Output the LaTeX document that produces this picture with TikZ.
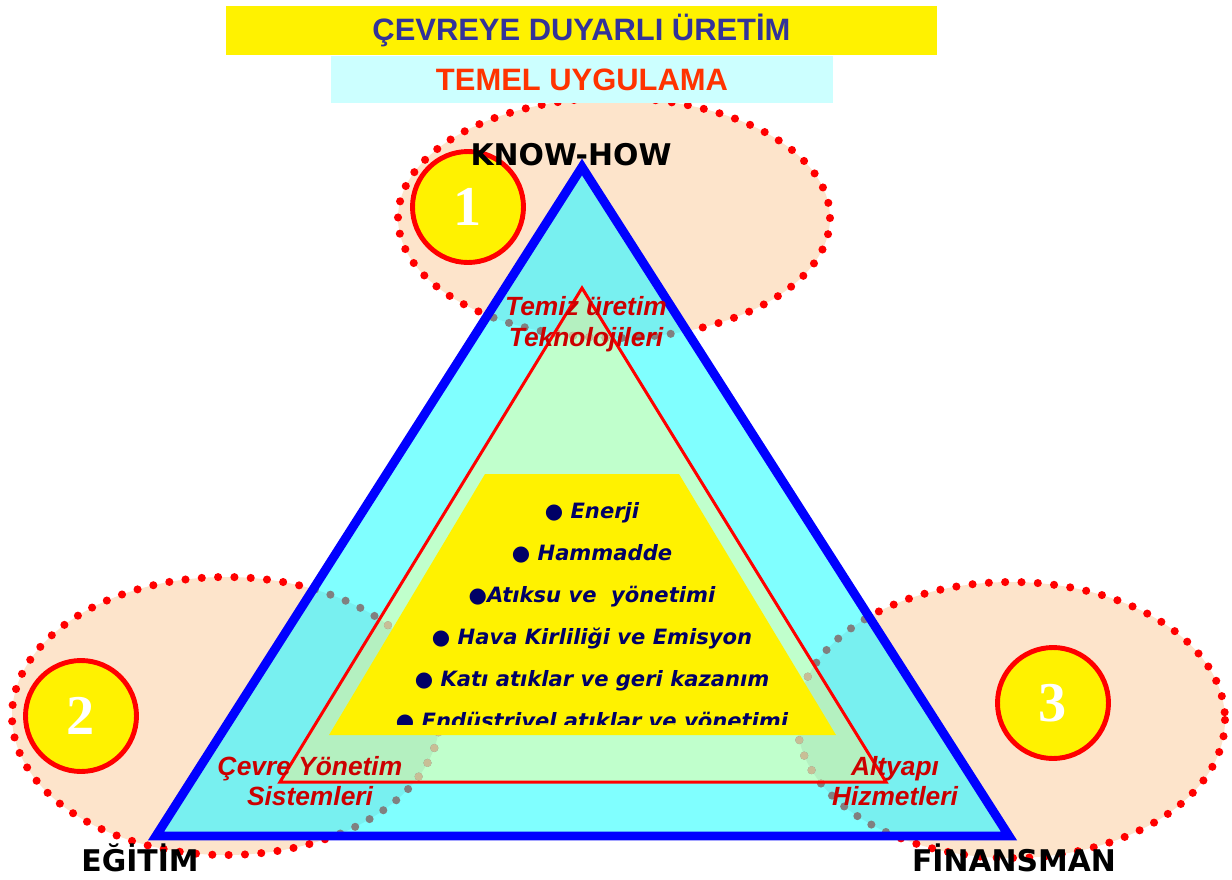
\documentclass[tikz,border=0pt]{standalone}
\usepackage{fontspec}
\setmainfont{Liberation Sans}
\newfontfamily\dvs{DejaVu Sans}
\newfontfamily\tnr{Liberation Serif}
\definecolor{titlecol}{HTML}{333399}
\definecolor{subcol}{HTML}{FF3300}
\definecolor{subbox}{HTML}{CCFFFF}
\definecolor{peach}{HTML}{FDE4CB}
\definecolor{cyanf}{HTML}{80FFFF}
\definecolor{greenf}{HTML}{C0FFCC}
\definecolor{navy}{HTML}{000066}
\definecolor{labred}{HTML}{CC0000}
\definecolor{tandot}{HTML}{C8BE96}
\tikzset{
  dotline/.style={line width=4.6pt, line cap=round, dash pattern=on 0pt off 9.3pt},
  numcirc/.style={circle, draw=red, line width=2.8pt, fill=yellow, minimum size=2.22cm, inner sep=0pt,
    text=white, font=\tnr\bfseries\fontsize{32}{32}\selectfont},
  listline/.style={anchor=base, text=navy, inner sep=0pt, font=\dvs\bfseries\itshape\fontsize{12}{14}\selectfont},
  redlab/.style={text=labred, align=center, inner sep=0pt, font=\bfseries\itshape\fontsize{15}{17.5}\selectfont},
  comic/.style={text=black, inner sep=0pt, font=\dvs\bfseries\fontsize{17}{20}\selectfont},
}
\begin{document}
\begin{tikzpicture}[x=0.02cm,y=-0.02cm]
\useasboundingbox (0,0) rectangle (1232,880);
% ellipses
\def\ellA{(614,218) ellipse [x radius=216, y radius=120]}
\def\ellB{(226,716) ellipse [x radius=214, y radius=139]}
\def\ellC{(1011,720) ellipse [x radius=214, y radius=138]}
\foreach \e in {\ellA,\ellB,\ellC}{
  \fill[peach] \e;
  \draw[red, dotline] \e;
}
% title boxes
\node[fill=yellow, minimum width=14.22cm, minimum height=0.98cm, inner sep=0pt,
  text=titlecol, font=\bfseries\fontsize{17.6}{20}\selectfont] (t1) at (581.5,30.5) {ÇEVREYE DUYARLI ÜRETİM};
\node[fill=subbox, minimum width=10.04cm, minimum height=0.94cm, inner sep=0pt,
  text=subcol, font=\bfseries\fontsize{17.6}{20}\selectfont] (t2) at (582,79.5) {TEMEL UYGULAMA};
% triangle coordinates
\coordinate (A) at (582,167);
\coordinate (B) at (156,836);
\coordinate (C) at (1009,836);
\coordinate (P) at (582,288);
\coordinate (Q) at (280,782);
\coordinate (R) at (886,782);
\fill[cyanf] (A) -- (B) -- (C) -- cycle;
\fill[greenf] (P) -- (Q) -- (R) -- cycle;
\begin{scope}
  \clip (A) -- (B) -- (C) -- cycle;
  \foreach \e in {\ellA,\ellB,\ellC}{
    \fill[black, fill opacity=0.06] \e;
    \draw[gray, dotline] \e;
  }
\end{scope}
\begin{scope}
  \clip (P) -- (Q) -- (R) -- cycle;
  \foreach \e in {\ellA,\ellB,\ellC}{
    \draw[tandot, dotline] \e;
  }
\end{scope}
\draw[red, line width=1.7pt] (P) -- (Q) -- (R) -- cycle;
% yellow trapezoid
\coordinate (Y1) at (485,474);
\coordinate (Y2) at (679,474);
\coordinate (Y3) at (836,735);
\coordinate (Y4) at (329,735);
\fill[yellow] (Y1) -- (Y2) -- (Y3) -- (Y4) -- cycle;
\begin{scope}
  \clip (300,460) rectangle (880,724);
  \node[listline] (l1) at (592,518) {● Enerji};
  \node[listline] (l2) at (592,560) {● Hammadde};
  \node[listline] (l3) at (592,602) {●Atıksu ve~ yönetimi};
  \node[listline] (l4) at (592,644) {● Hava Kirliliği ve Emisyon};
  \node[listline] (l5) at (592,686) {● Katı atıklar ve geri kazanım};
  \node[listline] (l6) at (592,728) {● Endüstriyel atıklar ve yönetimi};
\end{scope}
% blue outline
\draw[blue, line width=5.1pt] (A) -- (B) -- (C) -- cycle;
% numbered circles
\node[numcirc] (n1) at (468,207) {1};
\node[numcirc] (n2) at (81,716) {2};
\node[numcirc] (n3) at (1053,703) {3};
% red labels
\node[redlab] (lab1) at (586,324) {Temiz üretim\\Teknolojileri};
\node[redlab] (lab2) at (310,781) {Çevre Yönetim\\Sistemleri};
\node[redlab] (lab3) at (895,781) {Altyapı\\Hizmetleri};
% corner labels
\node[comic] (kh) at (571,155) {KNOW-HOW};
\node[comic] (eg) at (140,858) {EĞİTİM};
\node[comic] (fi) at (1014,858) {FİNANSMAN};
\end{tikzpicture}
\end{document}
